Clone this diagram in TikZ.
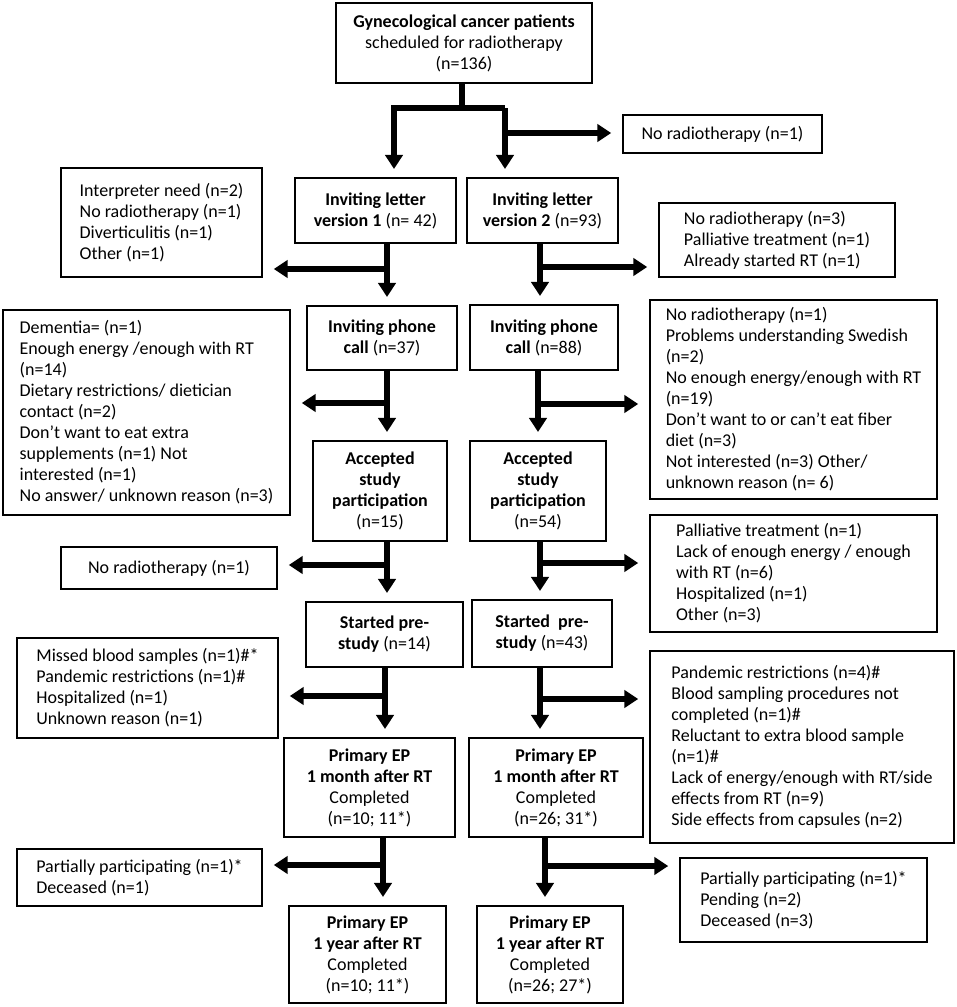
\documentclass[tikz,border=0pt]{standalone}
\usepackage{fontspec}
\setmainfont{Carlito}
\usetikzlibrary{arrows.meta}

\begin{document}
\begin{tikzpicture}
	[x=0.75pt,y=-0.75pt,
	 font=\fontsize{13.5}{15.75}\selectfont,
	 box/.style={draw,line width=1.6pt,align=center,inner sep=2pt},
	 sidebox/.style={draw,line width=1.6pt,align=left,inner sep=2pt},
	 line/.style={-,line width=4pt},
	 arrow/.style={-{Triangle[width=13pt,length=10.5pt]},line width=4pt,shorten >=6pt},
	 branch/.style={arrow,shorten >=8pt}]

	\path [use as bounding box] (0,0) rectangle (957,1007);

	% main column boxes
	\node[box,minimum width=256*0.75pt,minimum height=80*0.75pt] (start) at (464,43)
		{\textbf{Gynecological cancer patients}\\scheduled for radiotherapy\\(n=136)};
	\node[box,minimum width=161*0.75pt,minimum height=65*0.75pt] (letterA) at (375.5,210.5)
		{\textbf{Inviting letter}\\\textbf{version 1} (n= 42)};
	\node[box,minimum width=151*0.75pt,minimum height=65*0.75pt] (letterB) at (542.5,210.5)
		{\textbf{Inviting letter}\\\textbf{version 2} (n=93)};
	\node[box,minimum width=150*0.75pt,minimum height=64*0.75pt] (phoneA) at (382,338)
		{\textbf{Inviting phone}\\\textbf{call} (n=37)};
	\node[box,minimum width=148*0.75pt,minimum height=65*0.75pt] (phoneB) at (544,337.5)
		{\textbf{Inviting phone}\\\textbf{call} (n=88)};
	\node[box,minimum width=134*0.75pt,minimum height=100*0.75pt] (acceptA) at (380,491)
		{\textbf{Accepted}\\\textbf{study}\\\textbf{participation}\\(n=15)};
	\node[box,minimum width=136*0.75pt,minimum height=100*0.75pt] (acceptB) at (538,491)
		{\textbf{Accepted}\\\textbf{study}\\\textbf{participation}\\(n=54)};
	\node[box,minimum width=157*0.75pt,minimum height=65*0.75pt] (preA) at (384.5,634.5)
		{\textbf{Started pre-}\\\textbf{study} (n=14)};
	\node[box,minimum width=140*0.75pt,minimum height=67*0.75pt] (preB) at (542,633.5)
		{\textbf{Started\ \ pre-}\\\textbf{study} (n=43)};
	\node[box,minimum width=171*0.75pt,minimum height=99*0.75pt] (monthA) at (369.5,787.5)
		{\textbf{Primary EP}\\\textbf{1 month after RT}\\Completed\\(n=10; 11*)};
	\node[box,minimum width=174*0.75pt,minimum height=99*0.75pt] (monthB) at (556,787.5)
		{\textbf{Primary EP}\\\textbf{1 month after RT}\\Completed\\(n=26; 31*)};
	\node[box,minimum width=157*0.75pt,minimum height=97*0.75pt] (yearA) at (367.5,954.5)
		{\textbf{Primary EP}\\\textbf{1 year after RT}\\Completed\\(n=10; 11*)};
	\node[box,minimum width=146*0.75pt,minimum height=97*0.75pt] (yearB) at (550,954.5)
		{\textbf{Primary EP}\\\textbf{1 year after RT}\\Completed\\(n=26; 27*)};

	% exclusion boxes
	\node[sidebox,minimum width=199*0.75pt,minimum height=38*0.75pt] (outStart) at (722.5,134)
		{No radiotherapy (n=1)};
	\node[sidebox,minimum width=201*0.75pt,minimum height=109*0.75pt] (outLetterA) at (161.5,222.5)
		{Interpreter need (n=2)\\No radiotherapy (n=1)\\Diverticulitis (n=1)\\Other (n=1)};
	\node[sidebox,minimum width=236*0.75pt,minimum height=74*0.75pt] (outLetterB) at (777,240)
		{No radiotherapy (n=3)\\Palliative treatment (n=1)\\Already started RT (n=1)};
	\node[sidebox,minimum width=287*0.75pt,minimum height=205*0.75pt] (outPhoneA) at (146.5,412.5)
		{Dementia= (n=1)\\Enough energy /enough with RT\\(n=14)\\Dietary restrictions/ dietician\\contact (n=2)\\Don’t want to eat extra\\supplements (n=1) Not\\interested (n=1)\\No answer/ unknown reason (n=3)};
	\node[sidebox,minimum width=287*0.75pt,minimum height=199*0.75pt] (outPhoneB) at (793.5,399.5)
		{No radiotherapy (n=1)\\Problems understanding Swedish\\(n=2)\\No enough energy/enough with RT\\(n=19)\\Don’t want to or can’t eat fiber\\diet (n=3)\\Not interested (n=3) Other/\\unknown reason (n= 6)};
	\node[sidebox,minimum width=216*0.75pt,minimum height=42*0.75pt] (outAcceptA) at (169,568)
		{No radiotherapy (n=1)};
	\node[sidebox,minimum width=287*0.75pt,minimum height=117*0.75pt] (outAcceptB) at (793.5,573.5)
		{Palliative treatment (n=1)\\Lack of enough energy / enough\\with RT (n=6)\\Hospitalized (n=1)\\Other (n=3)};
	\node[sidebox,minimum width=261*0.75pt,minimum height=100*0.75pt] (outPreA) at (147.5,688)
		{Missed blood samples (n=1)\#*\\Pandemic restrictions (n=1)\#\\Hospitalized (n=1)\\Unknown reason (n=1)};
	\node[sidebox,minimum width=304*0.75pt,minimum height=192*0.75pt] (outPreB) at (802,747)
		{Pandemic restrictions (n=4)\#\\Blood sampling procedures not\\completed (n=1)\#\\Reluctant to extra blood sample\\(n=1)\#\\Lack of energy/enough with RT/side\\effects from RT (n=9)\\Side effects from capsules (n=2)};
	\node[sidebox,minimum width=245*0.75pt,minimum height=57*0.75pt] (outMonthA) at (139.5,877.5)
		{Partially participating (n=1)*\\Deceased (n=1)};
	\node[sidebox,minimum width=247*0.75pt,minimum height=84*0.75pt] (outMonthB) at (803.5,900)
		{Partially participating (n=1)*\\Pending (n=2)\\Deceased (n=3)};

	% junctions
	\coordinate (split)  at (462,108);
	\coordinate (splitA) at (394,108);
	\coordinate (splitB) at (505,108);
	\coordinate (j0) at (505,133);
	\coordinate (j1) at (387,269);
	\coordinate (j2) at (387,403);
	\coordinate (j3) at (387,565);
	\coordinate (j4) at (385,696);
	\coordinate (j5) at (383,865);
	\coordinate (k1) at (540,267);
	\coordinate (k2) at (538,404);
	\coordinate (k3) at (540,563);
	\coordinate (k4) at (540,699);
	\coordinate (k5) at (545,866);

	% split into two letter versions
	\draw[line] (start.south -| split) -- (split);
	\draw[arrow] (splitB) -- (splitA) -- (letterA.north -| splitA);
	\draw[arrow] (splitB) -- (letterB.north -| splitB);
	\draw[branch] (j0) -- (j0 -| outStart.west);

	% left column
	\draw[arrow] (letterA.south -| j1) -- (phoneA.north -| j1);
	\draw[arrow] (phoneA.south -| j2) -- (acceptA.north -| j2);
	\draw[arrow] (acceptA.south -| j3) -- (preA.north -| j3);
	\draw[arrow] (preA.south -| j4) -- (monthA.north -| j4);
	\draw[arrow] (monthA.south -| j5) -- (yearA.north -| j5);

	\draw[branch] (j1) -- (j1 -| outLetterA.east);
	\draw[branch] (j2) -- (j2 -| outPhoneA.east);
	\draw[branch] (j3) -- (j3 -| outAcceptA.east);
	\draw[branch] (j4) -- (j4 -| outPreA.east);
	\draw[branch] (j5) -- (j5 -| outMonthA.east);

	% right column
	\draw[arrow] (letterB.south -| k1) -- (phoneB.north -| k1);
	\draw[arrow] (phoneB.south -| k2) -- (acceptB.north -| k2);
	\draw[arrow] (acceptB.south -| k3) -- (preB.north -| k3);
	\draw[arrow] (preB.south -| k4) -- (monthB.north -| k4);
	\draw[arrow] (monthB.south -| k5) -- (yearB.north -| k5);

	\draw[branch] (k1) -- (k1 -| outLetterB.west);
	\draw[branch] (k2) -- (k2 -| outPhoneB.west);
	\draw[branch] (k3) -- (k3 -| outAcceptB.west);
	\draw[branch] (k4) -- (k4 -| outPreB.west);
	\draw[branch] (k5) -- (k5 -| outMonthB.west);
\end{tikzpicture}
\end{document}
